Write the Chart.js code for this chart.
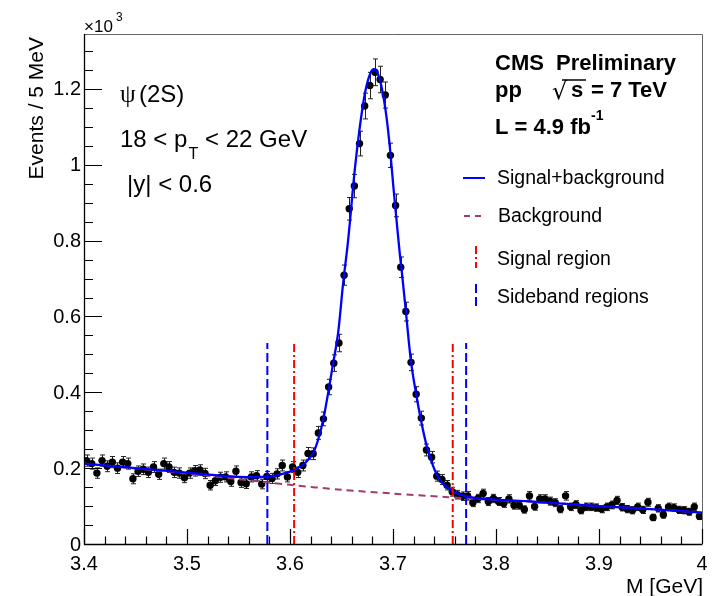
<!DOCTYPE html>
<html>
<head>
<meta charset="utf-8">
<script src="https://cdn.jsdelivr.net/npm/chart.js@4/dist/chart.umd.min.js"></script>
<style>
  html, body { margin: 0; padding: 0; background: #fff; }
</style>
</head>
<body>
<canvas id="chart" width="718" height="596"></canvas>
<script>
// events per 5 MeV bin (x10^3), 120 bins from 3.400 to 4.000 GeV
const counts = [
  0.220, 0.212, 0.187, 0.220, 0.205, 0.216, 0.200, 0.216, 0.212, 0.172,
  0.192, 0.197, 0.189, 0.203, 0.184, 0.212, 0.203, 0.189, 0.187, 0.175,
  0.187, 0.193, 0.195, 0.186, 0.155, 0.167, 0.176, 0.177, 0.165, 0.192,
  0.162, 0.159, 0.177, 0.180, 0.158, 0.178, 0.173, 0.185, 0.207, 0.177,
  0.203, 0.189, 0.207, 0.239, 0.238, 0.293, 0.330, 0.414, 0.477, 0.530,
  0.709, 0.884, 0.944, 1.056, 1.155, 1.209, 1.244, 1.225, 1.184, 1.025,
  0.893, 0.730, 0.613, 0.479, 0.395, 0.332, 0.248, 0.229, 0.179, 0.170,
  0.155, 0.138, 0.130, 0.126, 0.127, 0.109, 0.120, 0.133, 0.112, 0.120,
  0.112, 0.107, 0.119, 0.102, 0.102, 0.091, 0.127, 0.099, 0.119, 0.119,
  0.113, 0.109, 0.092, 0.127, 0.098, 0.104, 0.089, 0.098, 0.098, 0.096,
  0.092, 0.098, 0.103, 0.115, 0.097, 0.092, 0.089, 0.098, 0.090, 0.110,
  0.070, 0.094, 0.077, 0.098, 0.096, 0.090, 0.089, 0.085, 0.098, 0.073
];
const binStart = 3.4;
const binWidth = 0.005;
const massBins = counts.map((_, i) => binStart + (i + 0.5) * binWidth);

// fitted curves
const fitMass = [3.4, 3.45, 3.5, 3.53, 3.55, 3.565, 3.58, 3.59, 3.6, 3.605, 3.6144, 3.6225,
  3.6273, 3.6322, 3.637, 3.6419, 3.6467, 3.6516, 3.6564, 3.663, 3.6678, 3.6727, 3.6775,
  3.6812, 3.6849, 3.6889, 3.6937, 3.697, 3.7001, 3.7034, 3.7066, 3.7083, 3.7125, 3.7173,
  3.7225, 3.7277, 3.7326, 3.7377, 3.7426, 3.7487, 3.7575, 3.7681, 3.7811, 3.83, 3.9, 3.95, 4.0];
const fitValue = [0.212, 0.200, 0.188, 0.181, 0.177, 0.176, 0.178, 0.183, 0.191, 0.197, 0.213, 0.240,
  0.275, 0.327, 0.398, 0.477, 0.556, 0.688, 0.800, 0.990, 1.100, 1.188, 1.238,
  1.252, 1.243, 1.205, 1.126, 1.045, 0.950, 0.855, 0.765, 0.725, 0.613, 0.485,
  0.395, 0.319, 0.260, 0.215, 0.182, 0.158, 0.140, 0.128, 0.121, 0.113, 0.100, 0.092, 0.083];
const bgMass = [3.4, 3.45, 3.5, 3.55, 3.6, 3.65, 3.7, 3.75, 3.8, 3.85, 3.9, 3.95, 4.0];
const bgValue = [0.212, 0.199, 0.186, 0.171, 0.156, 0.143, 0.133, 0.124, 0.116, 0.109, 0.100, 0.092, 0.083];

const signalEdges = [3.604, 3.758];
const sidebandEdges = [3.578, 3.771];
const regionTop = 0.53;

const xTicks = [3.4, 3.5, 3.6, 3.7, 3.8, 3.9, 4.0];
const xLabels = ['3.4', '3.5', '3.6', '3.7', '3.8', '3.9', '4'];
const yTicks = [0, 0.2, 0.4, 0.6, 0.8, 1.0, 1.2];
const yLabels = ['0', '0.2', '0.4', '0.6', '0.8', '1', '1.2'];

const SANS = '"Liberation Sans", Arial, Helvetica, sans-serif';

function toPoints(xs, ys) {
  return xs.map((v, i) => ({ x: v, y: ys[i] }));
}

function edgeLines(edges) {
  const pts = [];
  edges.forEach(e => {
    pts.push({ x: e, y: 0 }, { x: e, y: regionTop }, { x: e, y: null });
  });
  return pts;
}

const decorations = {
  id: 'decorations',
  beforeDatasetsDraw(chart) {
    const { ctx, scales: { x, y } } = chart;
    // error bars
    ctx.save();
    ctx.strokeStyle = '#222';
    ctx.lineWidth = 1;
    counts.forEach((v, i) => {
      const err = Math.sqrt(v * 1000) / 1000;
      const px = Math.round(x.getPixelForValue(massBins[i])) + 0.5;
      const lo = y.getPixelForValue(v - err);
      const hi = y.getPixelForValue(v + err);
      ctx.beginPath();
      ctx.moveTo(px, lo); ctx.lineTo(px, hi);
      ctx.moveTo(px - 2.5, lo); ctx.lineTo(px + 2.5, lo);
      ctx.moveTo(px - 2.5, hi); ctx.lineTo(px + 2.5, hi);
      ctx.stroke();
    });
    ctx.restore();
  },
  afterDraw(chart) {
    const { ctx, chartArea: a, scales: { x, y } } = chart;
    ctx.save();

    // frame
    ctx.lineWidth = 1;
    ctx.strokeStyle = '#666';
    ctx.beginPath();
    ctx.moveTo(a.left, a.top + 0.5); ctx.lineTo(a.right + 0.5, a.top + 0.5);
    ctx.lineTo(a.right + 0.5, a.bottom);
    ctx.stroke();
    ctx.strokeStyle = '#000';
    ctx.lineWidth = 1.3;
    ctx.beginPath();
    ctx.moveTo(a.left + 0.5, a.top); ctx.lineTo(a.left + 0.5, a.bottom + 0.5);
    ctx.lineTo(a.right + 0.5, a.bottom + 0.5);
    ctx.stroke();

    // ticks
    ctx.lineWidth = 1.2;
    ctx.beginPath();
    for (let k = 0; k <= 26; k++) {
      const v = k * 0.05;
      const py = Math.round(y.getPixelForValue(v)) + 0.5;
      const len = k % 4 === 0 ? 18 : 9;
      ctx.moveTo(a.left, py); ctx.lineTo(a.left + len, py);
    }
    for (let k = 0; k <= 30; k++) {
      const v = 3.4 + k * 0.02;
      const px = Math.round(x.getPixelForValue(v)) + 0.5;
      const len = k % 5 === 0 ? 15 : 7.5;
      ctx.moveTo(px, a.bottom); ctx.lineTo(px, a.bottom - len);
    }
    ctx.stroke();

    // tick labels
    ctx.fillStyle = '#000';
    ctx.font = '20px ' + SANS;
    ctx.textAlign = 'right';
    ctx.textBaseline = 'middle';
    yTicks.forEach((v, i) => ctx.fillText(yLabels[i], a.left - 3, y.getPixelForValue(v) + 1));
    ctx.textAlign = 'center';
    ctx.textBaseline = 'alphabetic';
    xTicks.forEach((v, i) => ctx.fillText(xLabels[i], x.getPixelForValue(v), 570));

    // exponent
    ctx.textAlign = 'left';
    ctx.font = '17px ' + SANS;
    ctx.fillText('\u00d710', 84, 32);
    ctx.font = '12px ' + SANS;
    ctx.fillText('3', 116, 21);

    // axis titles
    ctx.font = '21px ' + SANS;
    ctx.textAlign = 'right';
    ctx.fillText('M [GeV]', 703, 593);
    ctx.save();
    ctx.translate(43, 37);
    ctx.rotate(-Math.PI / 2);
    ctx.fillText('Events / 5 MeV', 0, 0);
    ctx.restore();

    // left annotations
    ctx.textAlign = 'left';
    ctx.font = '25px "Liberation Serif", serif';
    ctx.fillText('\u03c8', 120, 102);
    ctx.font = '24px ' + SANS;
    ctx.fillText('(2S)', 139, 102);
    ctx.fillText('18 < p', 120, 147);
    let w = ctx.measureText('18 < p').width;
    ctx.font = '16px ' + SANS;
    ctx.fillText('T', 120 + w + 1, 159);
    ctx.font = '24px ' + SANS;
    ctx.fillText(' < 22 GeV', 120 + w + 11, 147);
    ctx.fillText('|y| < 0.6', 127, 192);

    // CMS header
    ctx.font = 'bold 22px ' + SANS;
    ctx.fillText('CMS  Preliminary', 495, 70);
    ctx.fillText('pp', 495, 97);
    ctx.font = '24px "DejaVu Sans", ' + SANS;
    ctx.fillText('\u221a', 552, 99);
    ctx.font = 'bold 22px ' + SANS;
    ctx.fillText('s', 571, 97);
    ctx.fillText('= 7 TeV', 591, 97);
    ctx.lineWidth = 1.5;
    ctx.beginPath();
    ctx.moveTo(562, 80); ctx.lineTo(586, 80);
    ctx.stroke();
    ctx.fillText('L = 4.9 fb', 495, 134);
    ctx.font = 'bold 14px ' + SANS;
    ctx.fillText('-1', 591, 120);

    // legend
    ctx.font = '19.5px ' + SANS;
    ctx.fillText('Signal+background', 497, 184);
    ctx.fillText('Background', 498, 222);
    ctx.fillText('Signal region', 497, 265);
    ctx.fillText('Sideband regions', 497, 303);

    ctx.lineWidth = 2;
    ctx.strokeStyle = '#0000ff';
    ctx.beginPath(); ctx.moveTo(463, 178); ctx.lineTo(485, 178); ctx.stroke();
    ctx.strokeStyle = '#a03c6e';
    ctx.setLineDash([6, 5]);
    ctx.beginPath(); ctx.moveTo(464, 216); ctx.lineTo(486, 216); ctx.stroke();
    ctx.strokeStyle = '#ff0000';
    ctx.setLineDash([8, 3, 2, 3]);
    ctx.beginPath(); ctx.moveTo(476, 246); ctx.lineTo(476, 268); ctx.stroke();
    ctx.strokeStyle = '#0000ff';
    ctx.setLineDash([9, 4]);
    ctx.beginPath(); ctx.moveTo(476, 284); ctx.lineTo(476, 306); ctx.stroke();

    ctx.restore();
  }
};

new Chart(document.getElementById('chart'), {
  type: 'scatter',
  data: {
    datasets: [
      {
        label: 'Signal region',
        data: edgeLines(signalEdges),
        showLine: true,
        spanGaps: false,
        borderColor: '#ff0000',
        borderWidth: 2,
        borderDash: [8, 3, 2, 3],
        pointRadius: 0,
        order: 0
      },
      {
        label: 'Sideband regions',
        data: edgeLines(sidebandEdges),
        showLine: true,
        spanGaps: false,
        borderColor: '#0000ff',
        borderWidth: 2,
        borderDash: [9, 4],
        pointRadius: 0,
        order: 1
      },
      {
        label: 'Signal+background',
        data: toPoints(fitMass, fitValue),
        showLine: true,
        borderColor: '#0000ff',
        borderWidth: 2.3,
        cubicInterpolationMode: 'monotone',
        pointRadius: 0,
        order: 2
      },
      {
        label: 'Background',
        data: toPoints(bgMass, bgValue),
        showLine: true,
        borderColor: '#a03c6e',
        borderWidth: 2,
        borderDash: [7, 5],
        tension: 0.3,
        pointRadius: 0,
        order: 3
      },
      {
        label: 'Data',
        data: toPoints(massBins, counts),
        backgroundColor: '#000',
        borderWidth: 0,
        pointRadius: 3.7,
        order: 4
      }
    ]
  },
  options: {
    responsive: false,
    animation: false,
    devicePixelRatio: 1,
    layout: { padding: { left: 84, top: 34, right: 16, bottom: 52 } },
    plugins: { legend: { display: false }, tooltip: { enabled: false } },
    scales: {
      x: { type: 'linear', min: 3.4, max: 4.0, display: false },
      y: { type: 'linear', min: 0, max: 1.345, display: false }
    }
  },
  plugins: [decorations]
});
</script>
</body>
</html>
